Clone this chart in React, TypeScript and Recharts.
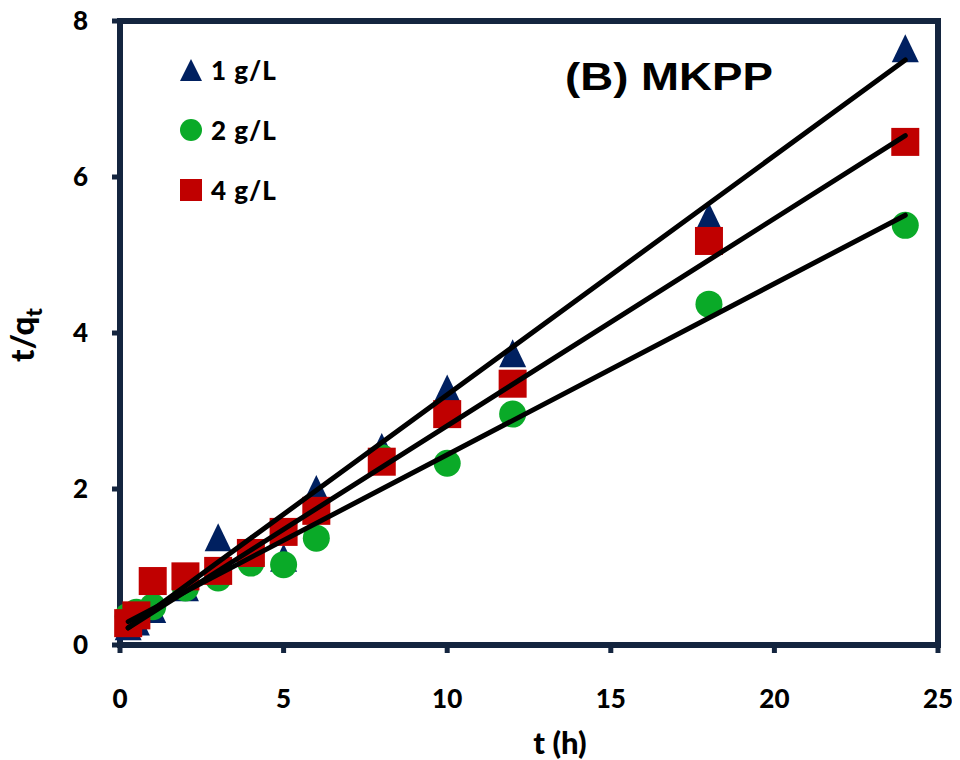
import * as React from 'react';
import { ScatterChart, Scatter, XAxis, YAxis, ReferenceArea } from 'recharts';

// sampling times (h)
const times = [0.25, 0.5, 1, 2, 3, 4, 5, 6, 8, 10, 12, 18, 24];
// t/qt per adsorbent dose
const dose1 = [0.24, 0.3, 0.46, 0.74, 1.38, 1.23, 1.12, 2.0, 2.54, 3.29, 3.74, 5.49, 7.65];
const dose2 = [0.37, 0.42, 0.49, 0.73, 0.86, 1.05, 1.03, 1.37, 2.4, 2.33, 2.96, 4.37, 5.38];
const dose4 = [0.28, 0.38, 0.82, 0.88, 0.95, 1.18, 1.45, 1.72, 2.35, 2.96, 3.35, 5.18, 6.45];

// linear fits (end points)
const fitTimes = [0.25, 24];
const fit1 = [0.22, 7.5];
const fit2 = [0.3, 5.51];
const fit4 = [0.22, 6.53];

const xTicks = [0, 5, 10, 15, 20, 25];
const yTicks = [0, 2, 4, 6, 8];

const NAVY = '#002060';
const GREEN = '#0aaa28';
const RED = '#c00000';
const FRAME = '#14253f';

const toPts = (xs: number[], ys: number[]) => xs.map((x, i) => ({ x, y: ys[i] }));

const tri = (props: any) => {
  const { cx, cy } = props;
  const w = 27, h = 28;
  return <polygon points={`${cx},${cy - h / 2} ${cx + w / 2},${cy + h / 2} ${cx - w / 2},${cy + h / 2}`} fill={NAVY} />;
};
const dot = (props: any) => <circle cx={props.cx} cy={props.cy} r={13.5} fill={GREEN} />;
const sq = (props: any) => <rect x={props.cx - 14} y={props.cy - 14} width={28} height={28} fill={RED} />;
const noShape = () => <g />;

const legendRows = [
  { label: '1 g/L', kind: 'tri', color: NAVY },
  { label: '2 g/L', kind: 'dot', color: GREEN },
  { label: '4 g/L', kind: 'sq', color: RED },
];

const LegendBox = () => (
  <div style={{ position: 'absolute', left: 180, top: 40 }}>
    {legendRows.map((r) => (
      <div key={r.label} style={{ display: 'flex', alignItems: 'center', height: 60 }}>
        <svg width={22} height={22}>
          {r.kind === 'tri' && <polygon points="11,0 22,22 0,22" fill={r.color} />}
          {r.kind === 'dot' && <circle cx={11} cy={11} r={11} fill={r.color} />}
          {r.kind === 'sq' && <rect x={0} y={0} width={22} height={22} fill={r.color} />}
        </svg>
        <span style={{ marginLeft: 9, fontFamily: 'Lato', fontWeight: 900, fontSize: 26, letterSpacing: 1, color: '#000' }}>
          {r.label}
        </span>
      </div>
    ))}
  </div>
);

const tickStyle = { fontFamily: 'Lato', fontWeight: 900, fontSize: 26, fill: '#000' };
const fitLine = { stroke: '#000', strokeWidth: 5, strokeLinecap: 'round' as const };

export default function App() {
  return (
    <div style={{ position: 'relative', width: 960, height: 760, marginLeft: -8, marginTop: -8 }}>
      <ScatterChart width={960} height={760} margin={{ top: 21, right: 22, left: 0, bottom: 0 }}>
        <ReferenceArea x1={0} x2={25} y1={0} y2={8} fill="none" stroke={FRAME} strokeWidth={6} />
        <XAxis
          type="number"
          dataKey="x"
          domain={[0, 25]}
          ticks={xTicks}
          height={115}
          tickSize={8}
          tickMargin={37}
          tick={tickStyle}
          axisLine={{ stroke: FRAME, strokeWidth: 6 }}
          tickLine={{ stroke: FRAME, strokeWidth: 5 }}
          label={{
            content: () => (
              <text x={560} y={754} textAnchor="middle" fontFamily="Lato" fontWeight={900} fontSize={31} fill="#000">
                t (h)
              </text>
            ),
          }}
        />
        <YAxis
          type="number"
          dataKey="y"
          domain={[0, 8]}
          ticks={yTicks}
          width={120}
          tickSize={8}
          tickMargin={24}
          tick={tickStyle}
          axisLine={{ stroke: FRAME, strokeWidth: 6 }}
          tickLine={{ stroke: FRAME, strokeWidth: 5 }}
          label={{
            content: () => (
              <text x={34} y={335} transform="rotate(-90 34 335)" textAnchor="middle" fontFamily="Lato" fontWeight={900} fontSize={33} fill="#000">
                t/q
                <tspan dy={8} fontSize={23}>t</tspan>
              </text>
            ),
          }}
        />
        <Scatter name="1 g/L" data={toPts(times, dose1)} shape={tri} isAnimationActive={false} />
        <Scatter name="2 g/L" data={toPts(times, dose2)} shape={dot} isAnimationActive={false} />
        <Scatter name="4 g/L" data={toPts(times, dose4)} shape={sq} isAnimationActive={false} />
        <Scatter data={toPts(fitTimes, fit1)} shape={noShape} line={fitLine} isAnimationActive={false} />
        <Scatter data={toPts(fitTimes, fit4)} shape={noShape} line={fitLine} isAnimationActive={false} />
        <Scatter data={toPts(fitTimes, fit2)} shape={noShape} line={fitLine} isAnimationActive={false} />
      </ScatterChart>
      <LegendBox />
      <div
        style={{
          position: 'absolute',
          left: 565,
          top: 57,
          fontFamily: '"Liberation Sans", Arial, sans-serif',
          fontWeight: 700,
          fontSize: 39,
          lineHeight: 1,
          whiteSpace: 'nowrap',
          transform: 'scaleX(1.17)',
          transformOrigin: 'left top',
          color: '#000',
        }}
      >
        (B) MKPP
      </div>
    </div>
  );
}
